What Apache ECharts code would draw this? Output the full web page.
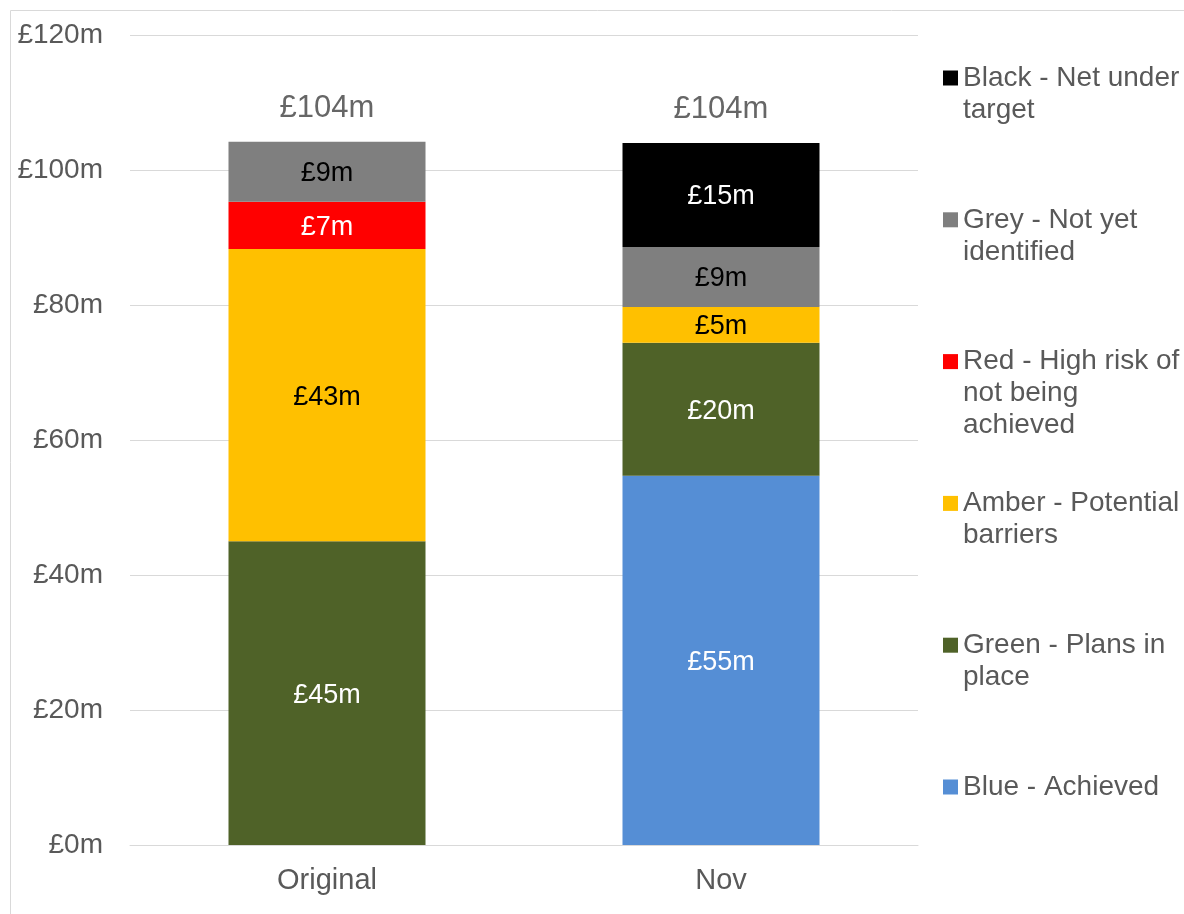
<!DOCTYPE html>
<html>
<head>
<meta charset="utf-8">
<title>Savings by RAG status</title>
<script src="https://cdn.jsdelivr.net/npm/echarts@6/dist/echarts.min.js"></script>
<style>
  html, body { margin: 0; padding: 0; background: #fff; }
  #chart { width: 1184px; height: 914px; }
</style>
</head>
<body>
<div id="chart"></div>
<script>
// categories on the x axis
var categories = ['Original', 'Nov']

// stacked from the bottom up, £m (null = not present)
var blueData = [null, 54.7]
var greenData = [45.0, 19.7]
var amberData = [43.3, 5.3]
var redData = [7.0, null]
var greyData = [8.9, 8.9]
var blackData = [null, 15.4]

var seriesNames = [
  'Blue - Achieved',
  'Green - Plans in place',
  'Amber - Potential barriers',
  'Red - High risk of not being achieved',
  'Grey - Not yet identified',
  'Black - Net under target'
]
// how the legend text wraps in the original
var legendText = {
  'Blue - Achieved': 'Blue - Achieved',
  'Green - Plans in place': 'Green - Plans in\nplace',
  'Amber - Potential barriers': 'Amber - Potential\nbarriers',
  'Red - High risk of not being achieved': 'Red - High risk of\nnot being\nachieved',
  'Grey - Not yet identified': 'Grey - Not yet\nidentified',
  'Black - Net under target': 'Black - Net under\ntarget'
}

var yTicks = { min: 0, max: 120, interval: 20 }

var colorList = ['#558ed5', '#4f6228', '#ffc000', '#ff0000', '#7f7f7f', '#000000']
var labelColors = ['#fff', '#fff', '#000', '#fff', '#000', '#fff']
var allData = [blueData, greenData, amberData, redData, greyData, blackData]

var totals = categories.map(function(c, i) {
  var s = 0
  allData.forEach(function(d) { s += d[i] || 0 })
  return s
})

var font = '"Liberation Sans", Arial, sans-serif'
var textGrey = '#595959'

var chart = echarts.init(document.getElementById('chart'))

var series = seriesNames.map(function(name, i) {
  return {
    name: name,
    type: 'bar',
    stack: 'total',
    barWidth: '50%',
    data: allData[i],
    itemStyle: { color: colorList[i] },
    label: {
      show: true,
      position: 'inside',
      offset: [0, 2],
      color: labelColors[i],
      fontFamily: font,
      fontSize: 27,
      formatter: function(p) { return '£' + Math.round(p.value) + 'm' }
    },
    emphasis: { disabled: true }
  }
})

// total above each bar
series.push({
  name: 'Total',
  type: 'scatter',
  data: totals,
  symbolSize: 0,
  silent: true,
  label: {
    show: true,
    position: 'top',
    distance: 18,
    color: '#404040',
    fontFamily: font,
    fontSize: 31,
    formatter: function(p) { return '£' + Math.round(p.value) + 'm' }
  }
})

// one legend per item; blank lines in front keep the square on the first text line
var lineH = 32
var firstIconY = 78
var iconStep = 141.8
var legendOrder = seriesNames.slice().reverse()
var legends = legendOrder.map(function(name, i) {
  var lines = legendText[name].split('\n').length
  var iconY = firstIconY + i * iconStep
  var pad = new Array(lines).join('\n')
  return {
    orient: 'vertical',
    left: 943,
    top: iconY - (2 * lines - 1) * lineH / 2,
    padding: 0,
    itemWidth: 15,
    itemHeight: 15,
    icon: 'rect',
    selectedMode: false,
    data: [name],
    formatter: function(n) { return pad + legendText[n] },
    textStyle: {
      color: textGrey,
      fontFamily: font,
      fontSize: 28,
      lineHeight: lineH
    }
  }
})

chart.setOption({
  animation: false,
  color: colorList,
  graphic: [{
    type: 'rect',
    shape: { x: 10.5, y: 10.5, width: 1300, height: 1000 },
    style: { fill: 'none', stroke: '#d9d9d9', lineWidth: 1 },
    silent: true
  }],
  legend: legends,
  grid: {
    left: 130,
    right: 266,
    top: 35,
    bottom: 69
  },
  xAxis: {
    type: 'category',
    data: categories,
    axisTick: { show: false },
    axisLine: { lineStyle: { color: '#d9d9d9', width: 1 } },
    axisLabel: {
      color: textGrey,
      fontFamily: font,
      fontSize: 29,
      margin: 21
    }
  },
  yAxis: {
    type: 'value',
    min: yTicks.min,
    max: yTicks.max,
    interval: yTicks.interval,
    axisLine: { show: false },
    axisTick: { show: false },
    splitLine: { lineStyle: { color: '#d9d9d9', width: 1 } },
    axisLabel: {
      color: textGrey,
      fontFamily: font,
      fontSize: 28,
      margin: 27,
      formatter: '£{value}m'
    }
  },
  series: series
})
</script>
</body>
</html>
